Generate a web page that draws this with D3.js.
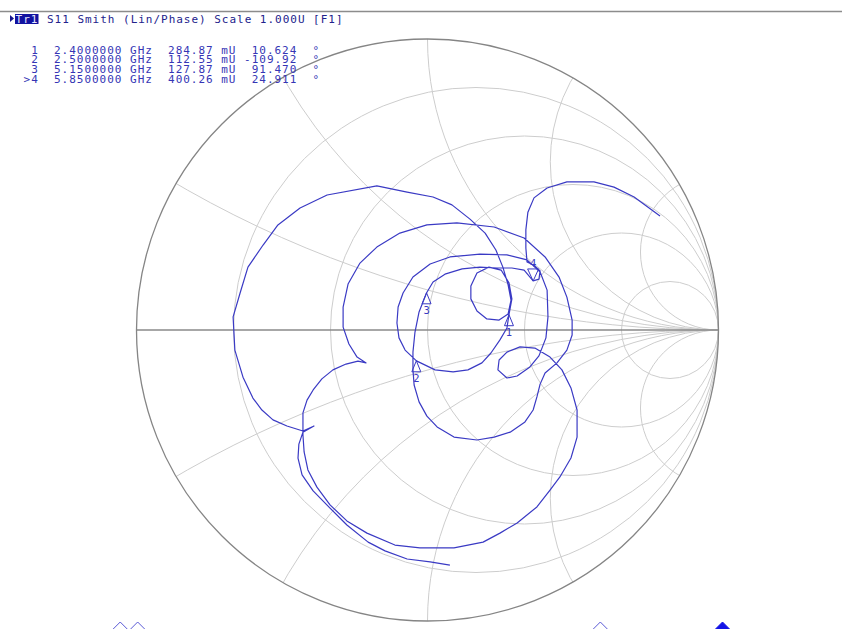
<!DOCTYPE html>
<html>
<head>
<meta charset="utf-8">
<script src="https://cdn.jsdelivr.net/npm/d3@7"></script>
<style>
body { margin: 0; background: #fff; }
svg text { font-family: "DejaVu Sans Mono", monospace; white-space: pre; }
</style>
</head>
<body>
<svg id="chart"></svg>
<script>
var W = 842, H = 629;
var cx = 427.5, cy = 330, R = 291;

// grid values
var resistances = [0.2, 0.5, 1, 2, 5];
var reactances = [0.27, 0.58, 1, 1.73, 3.73];

// markers
var markerIds = ["1", "2", "3", "4"];
var markerFreq = [2.4, 2.5, 5.15, 5.85];          // GHz
var markerMag = [284.87, 112.55, 127.87, 400.26];  // mU
var markerPhase = [10.624, -109.92, 91.470, 24.911]; // deg
var activeMarker = 3;

var sweepGHz = [1.7, 6.5];
var headerText = "S11 Smith (Lin/Phase) Scale 1.000U [F1]";

// S11 trace, reflection coefficient [re, im], start -> stop
var trace = [
	[0.077, -0.808], [0.009, -0.797], [-0.070, -0.787], [-0.146, -0.759], [-0.204, -0.729],
	[-0.277, -0.670], [-0.335, -0.612], [-0.393, -0.553], [-0.431, -0.498], [-0.445, -0.440],
	[-0.442, -0.392], [-0.428, -0.351], [-0.390, -0.330], [-0.428, -0.347],
	[-0.483, -0.330], [-0.531, -0.309], [-0.569, -0.275], [-0.600, -0.234], [-0.634, -0.162],
	[-0.662, -0.069], [-0.668, 0.045], [-0.644, 0.127], [-0.617, 0.216], [-0.565, 0.292],
	[-0.514, 0.361], [-0.438, 0.419], [-0.345, 0.464], [-0.174, 0.495], [-0.070, 0.474],
	[0.019, 0.457], [0.084, 0.430], [0.146, 0.381], [0.198, 0.333], [0.235, 0.275],
	[0.259, 0.216], [0.277, 0.155], [0.287, 0.103], [0.277, 0.055], [0.246, 0.034],
	[0.204, 0.038], [0.170, 0.065], [0.149, 0.107], [0.149, 0.151], [0.170, 0.196],
	[0.211, 0.216], [0.253, 0.206], [0.280, 0.162], [0.290, 0.107],
	[0.280, 0.053],
	[0.273, 0.007], [0.249, -0.034], [0.218, -0.079], [0.187, -0.113], [0.139, -0.137],
	[0.088, -0.144], [0.026, -0.137],
	[-0.038, -0.106],
	[-0.077, -0.069], [-0.098, -0.027], [-0.105, 0.024], [-0.101, 0.079], [-0.084, 0.127],
	[-0.050, 0.182], [0.009, 0.227], [0.077, 0.251], [0.180, 0.261], [0.273, 0.258],
	[0.342, 0.241], [0.387, 0.199], [0.411, 0.137], [0.414, 0.045], [0.407, -0.027],
	[0.383, -0.089], [0.352, -0.127], [0.308, -0.158], [0.273, -0.165], [0.242, -0.137],
	[0.246, -0.103], [0.273, -0.076], [0.318, -0.058], [0.369, -0.062], [0.421, -0.093],
	[0.462, -0.137], [0.493, -0.199], [0.514, -0.275], [0.514, -0.368], [0.493, -0.440],
	[0.455, -0.505], [0.421, -0.550], [0.376, -0.608], [0.308, -0.663], [0.249, -0.698],
	[0.191, -0.729], [0.091, -0.749], [-0.026, -0.749], [-0.112, -0.739], [-0.208, -0.698],
	[-0.277, -0.656], [-0.335, -0.601], [-0.380, -0.540], [-0.411, -0.481], [-0.424, -0.419],
	[-0.428, -0.361],
	[-0.428, -0.285], [-0.414, -0.241], [-0.393, -0.206], [-0.363, -0.168], [-0.325, -0.137],
	[-0.280, -0.117], [-0.239, -0.107], [-0.211, -0.113],
	[-0.242, -0.093], [-0.270, -0.048], [-0.290, 0.010], [-0.290, 0.079], [-0.273, 0.158],
	[-0.232, 0.230], [-0.174, 0.285], [-0.095, 0.333], [-0.002, 0.361], [0.101, 0.368],
	[0.229, 0.354], [0.332, 0.316], [0.404, 0.251], [0.452, 0.182], [0.479, 0.113],
	[0.497, 0.034], [0.497, -0.017], [0.479, -0.069], [0.445, -0.113], [0.404, -0.148],
	[0.387, -0.186], [0.376, -0.230], [0.363, -0.275], [0.335, -0.316], [0.284, -0.351],
	[0.229, -0.368], [0.170, -0.378], [0.091, -0.368], [0.033, -0.333], [-0.002, -0.296],
	[-0.029, -0.247], [-0.046, -0.189], [-0.050, -0.137], [-0.050, -0.076], [-0.043, -0.007],
	[-0.029, 0.062],
	[-0.003, 0.128],
	[0.019, 0.165], [0.060, 0.192], [0.119, 0.210], [0.180, 0.216], [0.239, 0.213],
	[0.290, 0.213], [0.332, 0.206],
	[0.363, 0.169],
	[0.383, 0.175], [0.387, 0.203], [0.366, 0.223], [0.342, 0.234], [0.338, 0.282],
	[0.338, 0.344], [0.345, 0.405], [0.366, 0.454], [0.411, 0.488], [0.479, 0.509],
	[0.572, 0.509], [0.641, 0.491], [0.710, 0.457], [0.799, 0.392]
];

var svg = d3.select("#chart").attr("width", W).attr("height", H);

var x = d3.scaleLinear().domain([-1, 1]).range([cx - R, cx + R]);
var y = d3.scaleLinear().domain([-1, 1]).range([cy + R, cy - R]);
var fx = d3.scaleLinear().domain(sweepGHz).range([-2, 836]);

svg.append("defs").append("clipPath").attr("id", "unit")
	.append("circle").attr("cx", x(0)).attr("cy", y(0)).attr("r", x(1) - x(0));

var grid = svg.append("g").attr("clip-path", "url(#unit)")
	.attr("fill", "none").attr("stroke", "#cdcdcd").attr("stroke-width", 1);

resistances.forEach(function(r) {
	grid.append("circle")
		.attr("cx", x(r / (1 + r))).attr("cy", y(0))
		.attr("r", x(1 / (1 + r)) - x(0));
});
reactances.forEach(function(xv) {
	[1, -1].forEach(function(s) {
		grid.append("circle")
			.attr("cx", x(1)).attr("cy", y(s / xv))
			.attr("r", x(1 / xv) - x(0));
	});
});

svg.append("line")
	.attr("x1", x(-1)).attr("x2", x(1)).attr("y1", y(0)).attr("y2", y(0))
	.attr("stroke", "#8a8a8a").attr("stroke-width", 1.3);
svg.append("circle")
	.attr("cx", x(0)).attr("cy", y(0)).attr("r", x(1) - x(0))
	.attr("fill", "none").attr("stroke", "#858585").attr("stroke-width", 1.3);

// trace
var line = d3.line().x(function(d) { return x(d[0]); }).y(function(d) { return y(d[1]); });
svg.append("path").datum(trace)
	.attr("d", line)
	.attr("fill", "none").attr("stroke", "#3a3ac4").attr("stroke-width", 1.2)
	.attr("stroke-linejoin", "round");

// markers on the chart
var blue = "#3a3ac4";
markerIds.forEach(function(id, i) {
	var a = markerPhase[i] * Math.PI / 180, m = markerMag[i] / 1000;
	var px = x(m * Math.cos(a)), py = y(m * Math.sin(a));
	var up = (i === activeMarker);
	var h = up ? -12 : 11, w = up ? 5.5 : 4.5;
	svg.append("path")
		.attr("d", "M" + px + "," + py + "L" + (px - w) + "," + (py + h) + "L" + (px + w) + "," + (py + h) + "Z")
		.attr("fill", "none").attr("stroke", blue).attr("stroke-width", 1);
	svg.append("text")
		.attr("x", px).attr("y", up ? py - 14 : py + 21)
		.attr("text-anchor", "middle").attr("font-size", 10.5)
		.attr("fill", blue).text(id);
});

// frequency position indicators along the bottom
markerFreq.forEach(function(f, i) {
	var p = fx(f), t = 622;
	svg.append("path")
		.attr("d", "M" + p + "," + t + "L" + (p + 7) + "," + (t + 7) + "L" + p + "," + (t + 14) + "L" + (p - 7) + "," + (t + 7) + "Z")
		.attr("fill", i === activeMarker ? "#1414e6" : "#fff")
		.attr("stroke", i === activeMarker ? "#1414e6" : "#5a5ad6").attr("stroke-width", 1);
});

// header
svg.append("line").attr("x1", 0).attr("x2", W).attr("y1", 11.5).attr("y2", 11.5)
	.attr("stroke", "#8c8c8c").attr("stroke-width", 1.5);
svg.append("path").attr("d", "M10,15L14,18.5L10,22Z").attr("fill", "#14148c");
svg.append("rect").attr("x", 15).attr("y", 14).attr("width", 23.5).attr("height", 10)
	.attr("fill", "#1212a0");
svg.append("text").attr("x", 15.6).attr("y", 23).attr("font-size", 11)
	.attr("letter-spacing", 0.98).attr("fill", "#e6e6ff").text("Tr1");
svg.append("text").attr("x", 47).attr("y", 23).attr("font-size", 11)
	.attr("letter-spacing", 0.98).attr("fill", "#22228c").text(headerText);

// marker table: one text block, one line per marker
var rowY = [53.5, 63.2, 72.9, 82.6];
var table = svg.append("text").attr("font-size", 11)
	.attr("letter-spacing", 0.98).attr("fill", "#3535b5");
markerIds.forEach(function(id, i) {
	var ph = markerPhase[i].toPrecision(5);
	while (ph.length < 7) ph = " " + ph;
	var s = (i === activeMarker ? ">" : " ") + id + "  " + markerFreq[i].toFixed(7) + " GHz  " +
		markerMag[i].toFixed(2) + " mU " + ph + "  \u00b0";
	table.append("tspan").attr("x", 23.6).attr("y", rowY[i]).text(s);
});
</script>
</body>
</html>
